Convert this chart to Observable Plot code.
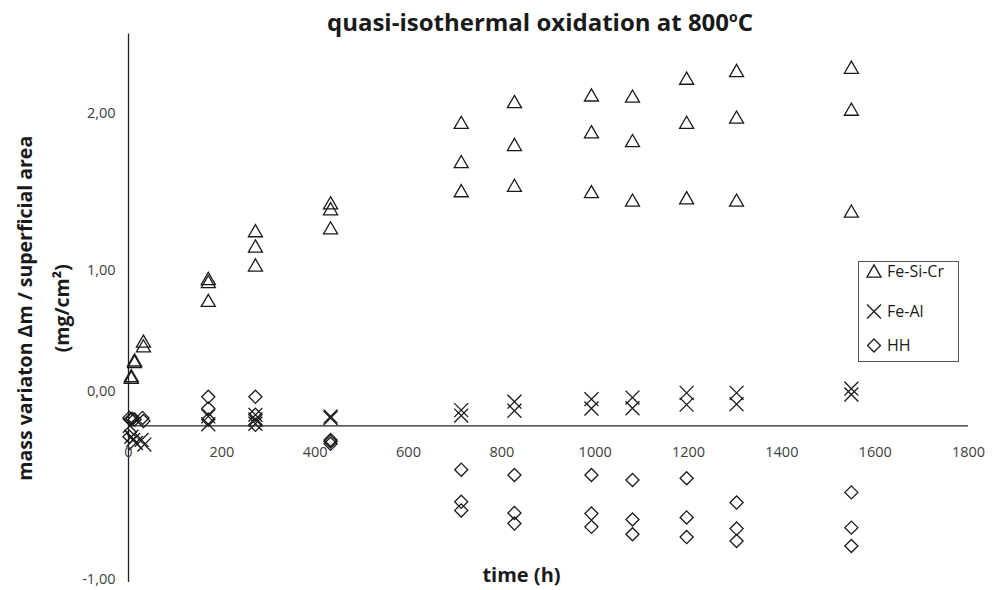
<!DOCTYPE html>
<html>
<head>
<meta charset="utf-8">
<script src="https://cdn.jsdelivr.net/npm/d3@7"></script>
<script src="https://cdn.jsdelivr.net/npm/@observablehq/plot@0.6"></script>
<style>
  body { margin: 0; background: #fff; font-family: "Open Sans", Lato, sans-serif; }
  #wrap { position: relative; width: 997px; height: 590px; overflow: hidden; }
  #title { position: absolute; left: 540px; top: 5px; transform: translateX(-50%); white-space: nowrap;
           font-weight: bold; font-size: 24px; color: #1a1a1a; }
  #title sup { font-size: 14px; }
  #legend { position: absolute; left: 858px; top: 261px; }
</style>
</head>
<body>
<div id="wrap">
  <div id="chart"></div>
  <div id="title">quasi-isothermal oxidation at 800<sup>o</sup>C</div>
  <svg id="legend" width="102" height="102"></svg>
</div>
<script>
// ---- data (time in h, mass variation in mg/cm²) ----
const feSiCrTime = [6, 6, 13, 13, 32, 32, 171, 171, 171, 272, 272, 272, 433, 433, 433, 713, 713, 713, 827, 827, 827, 992, 992, 992, 1080, 1080, 1080, 1196, 1196, 1196, 1303, 1303, 1303, 1549, 1549, 1549];
const feSiCrMass = [0.31, 0.32, 0.41, 0.42, 0.54, 0.51, 0.94, 0.92, 0.80, 1.245, 1.147, 1.026, 1.423, 1.385, 1.263, 1.936, 1.686, 1.50, 2.069, 1.795, 1.534, 2.111, 1.876, 1.494, 2.104, 1.82, 1.44, 2.218, 1.936, 1.455, 2.267, 1.97, 1.44, 2.288, 2.02, 1.37];

const feAlTime = [3, 6, 10, 16, 28, 34, 171, 171, 272, 272, 272, 433, 433, 713, 713, 827, 827, 992, 992, 1080, 1080, 1196, 1196, 1303, 1303, 1549, 1549];
const feAlMass = [0.0, -0.07, -0.09, -0.11, -0.09, -0.12, 0.06, 0.01, 0.07, 0.04, 0.013, 0.05, 0.06, 0.10, 0.065, 0.154, 0.096, 0.17, 0.11, 0.18, 0.112, 0.21, 0.135, 0.21, 0.138, 0.237, 0.20];

const hhTime = [2, 5, 8, 13, 30, 32, 2, 171, 171, 171, 272, 272, 272, 433, 433, 433, 713, 713, 713, 827, 827, 827, 992, 992, 992, 1080, 1080, 1080, 1196, 1196, 1196, 1303, 1303, 1303, 1549, 1549, 1549];
const hhMass = [0.05, 0.04, 0.045, 0.04, 0.05, 0.03, -0.07, 0.185, 0.11, 0.04, 0.185, 0.07, 0.006, -0.09, -0.10, -0.115, -0.28, -0.485, -0.54, -0.314, -0.556, -0.624, -0.314, -0.56, -0.645, -0.346, -0.598, -0.692, -0.335, -0.585, -0.71, -0.49, -0.656, -0.735, -0.425, -0.65, -0.767];

const seriesNames = ["Fe-Si-Cr", "Fe-Al", "HH"];
const xTicks = [0, 200, 400, 600, 800, 1000, 1200, 1400, 1600, 1800];
const yTicks = [2, 1, 0, -1];

const toRows = (ts, ms) => ts.map((t, i) => ({t, m: ms[i]}));
const feSiCr = toRows(feSiCrTime, feSiCrMass);
const feAl = toRows(feAlTime, feAlMass);
const hh = toRows(hhTime, hhMass);

const fmt = d => d.toFixed(2).replace(".", ",");
const ink = "#1a1a1a";
const tickColor = "#404040";
const font = "'Open Sans', Lato, sans-serif";

const chart = Plot.plot({
  width: 997,
  height: 590,
  marginLeft: 128,
  marginRight: 29,
  marginTop: 33.5,
  marginBottom: 8,
  x: {domain: [0, 1800], axis: null},
  y: {domain: [-1, 2.5], axis: null},
  style: {fontFamily: font, background: "white", overflow: "visible"},
  marks: [
    Plot.ruleY([0], {stroke: "#222", strokeWidth: 1.3}),
    Plot.ruleX([0], {stroke: "#222", strokeWidth: 1.3}),
    Plot.text(xTicks, {x: d => d, y: 0, dy: 27, text: d => String(d), fontSize: 14.5, fill: tickColor}),
    Plot.text(yTicks.filter(d => d > 0), {x: 0, y: d => d, dx: -13, dy: 1.5, textAnchor: "end", text: fmt, fontSize: 14.5, fill: tickColor}),
    Plot.text(yTicks.filter(d => d === 0), {x: 0, y: d => d, dx: -13, dy: -34, textAnchor: "end", text: fmt, fontSize: 14.5, fill: tickColor}),
    Plot.text(yTicks.filter(d => d < 0), {x: 0, y: d => d, dx: -13, dy: -3, textAnchor: "end", text: fmt, fontSize: 14.5, fill: tickColor}),
    Plot.dot(feSiCr, {x: "t", y: "m", symbol: "triangle2", r: 6.7, dy: 2, stroke: ink, strokeWidth: 1.3, fill: "none"}),
    Plot.dot(feAl, {x: "t", y: "m", symbol: "times", r: 6.4, stroke: ink, strokeWidth: 1.3}),
    Plot.dot(hh, {x: "t", y: "m", symbol: "diamond2", r: 5.9, stroke: ink, strokeWidth: 1.3, fill: "none"}),
    Plot.text(["mass variaton Δm / superficial area"], {frameAnchor: "left", textAnchor: "middle", rotate: -90, dx: -103, text: d => d, fontSize: 19.5, fontWeight: "bold", fill: ink}),
    Plot.text(["(mg/cm²)"], {frameAnchor: "left", textAnchor: "middle", rotate: -90, dx: -66, text: d => d, fontSize: 19.5, fontWeight: "bold", fill: ink}),
    Plot.text(["time (h)"], {frameAnchor: "bottom", textAnchor: "middle", dx: -27, dy: -1, text: d => d, fontSize: 20, fontWeight: "bold", fill: ink})
  ]
});
document.getElementById("chart").appendChild(chart);

// ---- legend ----
const lg = d3.select("#legend");
lg.append("rect").attr("x", 0.5).attr("y", 0.5).attr("width", 100).attr("height", 100)
  .attr("fill", "white").attr("stroke", "#555").attr("stroke-width", 1);
const legendSymbols = [d3.symbolTriangle2, d3.symbolTimes, d3.symbolDiamond2];
const legendSizes = [141, 129, 108];
const legendRowY = [10, 50.5, 84.5];
const legendDy = [2, 0, 0];
seriesNames.forEach((name, i) => {
  lg.append("path")
    .attr("d", d3.symbol(legendSymbols[i], legendSizes[i])())
    .attr("transform", `translate(16,${legendRowY[i] + legendDy[i]})`)
    .attr("fill", "none").attr("stroke", ink).attr("stroke-width", 1.3);
  lg.append("text").attr("x", 29).attr("y", legendRowY[i]).attr("dy", "0.35em")
    .attr("font-size", 16).attr("font-family", font).attr("fill", ink)
    .text(name);
});
</script>
</body>
</html>
